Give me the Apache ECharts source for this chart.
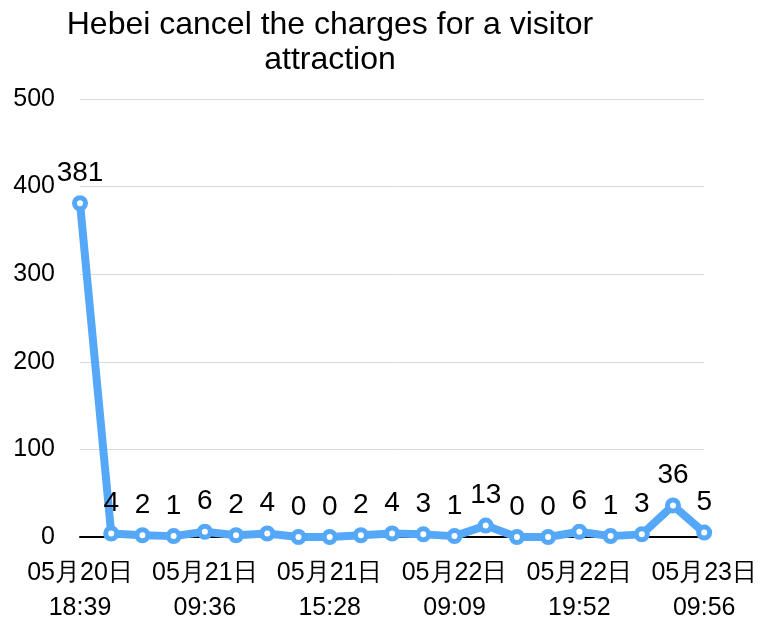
<!DOCTYPE html>
<html>
<head>
<meta charset="utf-8">
<script src="https://cdn.jsdelivr.net/npm/echarts@6/dist/echarts.min.js"></script>
<style>
html, body { margin: 0; padding: 0; background: #fff; }
#chart { width: 760px; height: 626px; }
</style>
</head>
<body>
<div id="chart"></div>
<script>
// category labels, only every 4th one is readable in the source
const times = [
    '05月20日\n18:39', '', '', '', '05月21日\n09:36', '', '', '',
    '05月21日\n15:28', '', '', '', '05月22日\n09:09', '', '', '',
    '05月22日\n19:52', '', '', '', '05月23日\n09:56'
]
const counts = [381, 4, 2, 1, 6, 2, 4, 0, 0, 2, 4, 3, 1, 13, 0, 0, 6, 1, 3, 36, 5]
const yTicks = [0, 100, 200, 300, 400, 500]

let myChart = echarts.init(document.getElementById('chart'))
const font = 'Liberation Sans, Arial, sans-serif'

option = {
    animation: false,
    title: {
        text: 'Hebei cancel the charges for a visitor\nattraction',
        left: 325,
        textAlign: 'center',
        top: 3,
        textStyle: {
            fontFamily: font,
            fontWeight: 'normal',
            fontSize: 32,
            lineHeight: 35,
            color: '#000'
        }
    },
    grid: {
        left: 80,
        right: 55,
        top: 99,
        bottom: 86
    },
    xAxis: {
        type: 'category',
        data: times,
        boundaryGap: false,
        axisLine: { lineStyle: { color: '#000', width: 2 } },
        axisTick: { show: false },
        axisLabel: {
            interval: 3,
            margin: 19,
            fontFamily: font,
            fontSize: 25,
            lineHeight: 35,
            color: '#000'
        }
    },
    yAxis: {
        type: 'value',
        min: yTicks[0],
        max: yTicks[yTicks.length - 1],
        interval: 100,
        axisLine: { show: false },
        axisTick: { show: false },
        splitLine: { lineStyle: { color: '#d9d9d9', width: 1 } },
        axisLabel: {
            margin: 25,
            fontFamily: font,
            fontSize: 25,
            color: '#000'
        }
    },
    series: [{
        type: 'line',
        data: counts,
        symbol: 'circle',
        symbolSize: 11,
        showAllSymbol: true,
        lineStyle: { color: '#55a8f8', width: 8 },
        itemStyle: { color: '#fff', borderColor: '#55a8f8', borderWidth: 5 },
        label: {
            show: true,
            position: 'top',
            distance: 8,
            fontFamily: font,
            fontSize: 28,
            color: '#000'
        }
    }]
}
myChart.setOption(option)
</script>
</body>
</html>
